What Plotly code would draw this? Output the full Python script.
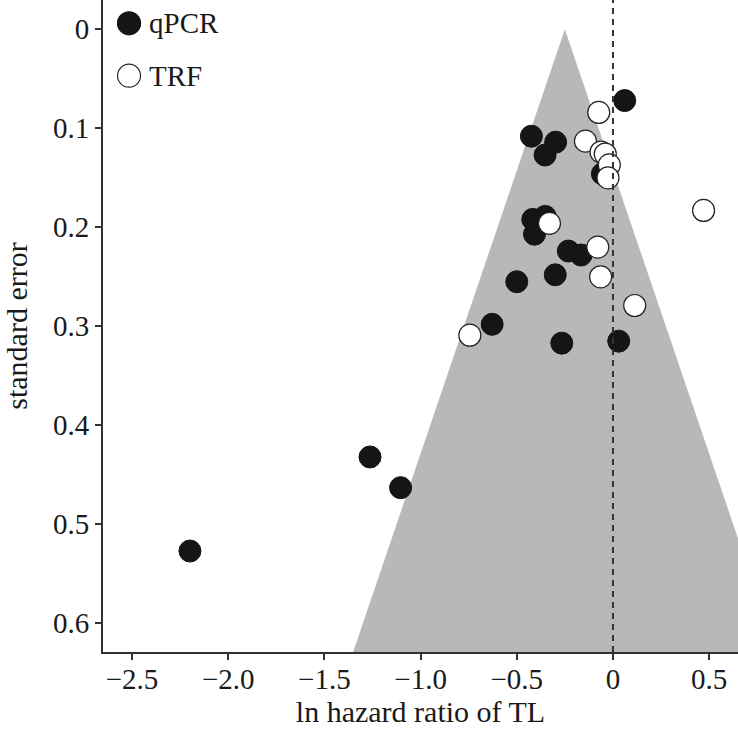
import plotly.graph_objects as go

# qPCR studies (filled)
qpcr_lnhr = [0.061, -0.424, -0.298, -0.353, -0.055, -0.417, -0.352, -0.408, -0.232,
             -0.166, -0.300, -0.500, -0.628, -0.266, 0.030, -1.263, -1.104, -2.199]
qpcr_se = [0.072, 0.108, 0.114, 0.127, 0.146, 0.192, 0.189, 0.207, 0.224,
           0.228, 0.248, 0.255, 0.298, 0.317, 0.315, 0.432, 0.463, 0.527]

# TRF studies (open)
trf_lnhr = [-0.074, -0.143, -0.062, -0.040, -0.019, -0.026, 0.471, -0.330,
            -0.079, -0.064, 0.113, -0.744]
trf_se = [0.084, 0.113, 0.124, 0.126, 0.137, 0.150, 0.183, 0.196,
          0.220, 0.250, 0.279, 0.309]

# funnel (pooled estimate and half-width multiplier)
pooled = -0.25
zmult = 1.75
se_max = 0.75

x_ticks = [-2.5, -2.0, -1.5, -1.0, -0.5, 0, 0.5]
x_ticklabels = ["\u22122.5", "\u22122.0", "\u22121.5", "\u22121.0", "\u22120.5", "0", "0.5"]
y_ticks = [0, 0.1, 0.2, 0.3, 0.4, 0.5, 0.6]
y_ticklabels = ["0", "0.1", "0.2", "0.3", "0.4", "0.5", "0.6"]

FONT = "Liberation Serif"
AX = "#333333"
TXT = "#1a1a1a"

fig = go.Figure()

fig.add_trace(go.Scatter(
    x=[pooled - zmult * se_max, pooled, pooled + zmult * se_max],
    y=[se_max, 0, se_max],
    fill="toself", fillcolor="rgb(184,184,184)", mode="none",
    hoverinfo="skip", showlegend=False))

fig.add_trace(go.Scatter(
    x=qpcr_lnhr, y=qpcr_se, mode="markers", name="qPCR",
    marker=dict(size=22, color="#151515", line=dict(color="#151515", width=1)),
    showlegend=False))

fig.add_trace(go.Scatter(
    x=trf_lnhr, y=trf_se, mode="markers", name="TRF",
    marker=dict(size=22, color="white", line=dict(color="#222222", width=1.2)),
    showlegend=False))

# dashed null line
fig.add_shape(type="line", xref="x", yref="paper", x0=0, x1=0, y0=0, y1=1,
              line=dict(color=AX, width=2, dash="6px,5px"))

# legend (drawn manually for large symbols)
legend_items = [("qPCR", "#151515", "#151515", 0.9643),
                ("TRF", "white", "#222222", 0.8839)]
for label, fillc, linec, yp in legend_items:
    fig.add_shape(type="circle", xref="paper", yref="paper",
                  xsizemode="pixel", ysizemode="pixel",
                  xanchor=0.041, yanchor=yp, x0=-11.5, x1=11.5, y0=-11.5, y1=11.5,
                  fillcolor=fillc, line=dict(color=linec, width=1.2))
    fig.add_annotation(xref="paper", yref="paper", x=0.070, y=yp, text=label,
                       showarrow=False, xanchor="left", yanchor="middle",
                       font=dict(family=FONT, size=29, color=TXT))

fig.update_layout(
    width=738, height=730,
    margin=dict(l=103, r=0, t=0, b=78),
    paper_bgcolor="white", plot_bgcolor="white",
    font=dict(family=FONT, size=29, color=TXT),
    showlegend=False,
)
fig.update_xaxes(range=[-2.651, 0.650], tickvals=x_ticks, ticktext=x_ticklabels,
                 showgrid=False, zeroline=False, showline=True, linecolor=AX, linewidth=2,
                 ticks="outside", ticklen=6, tickwidth=1.5, tickcolor=AX,
                 tickfont=dict(size=29), ticklabelstandoff=-6,
                 title=dict(text="ln hazard ratio of TL", standoff=2, font=dict(size=30)))
fig.update_yaxes(range=[0.629, -0.0296], tickvals=y_ticks, ticktext=y_ticklabels,
                 showgrid=False, zeroline=False, showline=True, linecolor=AX, linewidth=2,
                 ticks="outside", ticklen=6, tickwidth=1.5, tickcolor=AX,
                 tickfont=dict(size=29),
                 title=dict(text="standard error", standoff=17, font=dict(size=30)))

fig.write_html("out.html", config={"displayModeBar": False},
               post_script="document.body.style.margin='0';")
